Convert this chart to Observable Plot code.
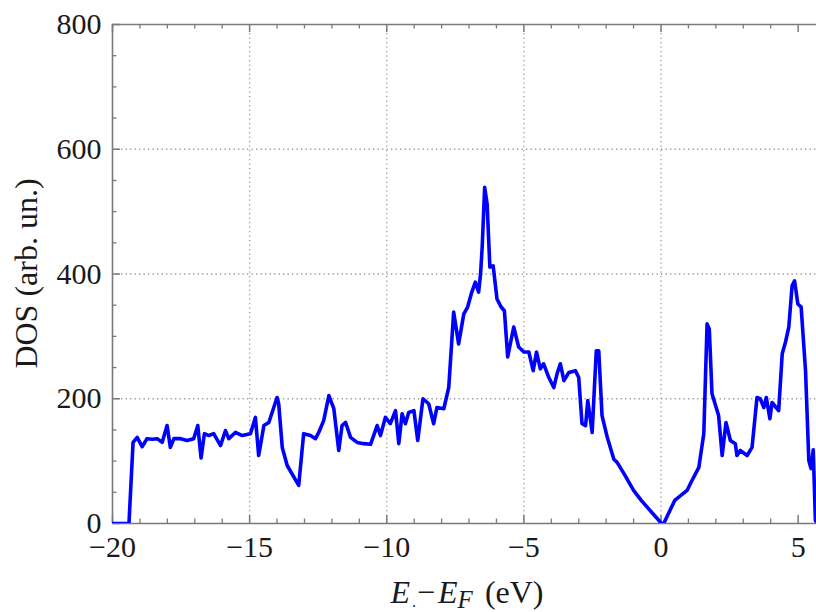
<!DOCTYPE html>
<html>
<head>
<meta charset="utf-8">
<script src="https://cdn.jsdelivr.net/npm/d3@7"></script>
<script src="https://cdn.jsdelivr.net/npm/@observablehq/plot@0.6"></script>
<style>
  html, body { margin: 0; padding: 0; background: #fff; }
  svg { display: block; }
  svg text { font-family: "Liberation Serif", "Times New Roman", Times, serif !important; }
</style>
</head>
<body>
<div id="chart"></div>
<script>
const energy = [-20, -19.40, -19.25, -19.10, -18.92, -18.74, -18.55, -18.37, -18.19, -18.01, -17.89, -17.76, -17.52, -17.28, -17.04, -16.89, -16.77, -16.65, -16.49, -16.31, -16.06, -15.88, -15.76, -15.52, -15.27, -14.97, -14.79, -14.67, -14.48, -14.30, -14.18, -14.00, -13.94, -13.81, -13.63, -13.21, -13.03, -12.78, -12.60, -12.48, -12.30, -12.11, -11.93, -11.75, -11.63, -11.50, -11.32, -11.08, -10.84, -10.59, -10.35, -10.23, -10.05, -9.87, -9.68, -9.56, -9.44, -9.32, -9.20, -9.01, -8.87, -8.68, -8.47, -8.29, -8.17, -7.92, -7.74, -7.56, -7.38, -7.19, -7.05, -6.92, -6.77, -6.65, -6.58, -6.52, -6.43, -6.34, -6.24, -6.12, -5.98, -5.83, -5.71, -5.59, -5.37, -5.19, -5.00, -4.82, -4.66, -4.54, -4.40, -4.28, -4.09, -3.91, -3.79, -3.67, -3.54, -3.36, -3.12, -3.00, -2.88, -2.75, -2.67, -2.51, -2.36, -2.27, -2.15, -1.97, -1.72, -1.60, -1.35, -1.00, -0.72, 0.02, 0.10, 0.50, 0.95, 1.13, 1.38, 1.56, 1.68, 1.76, 1.86, 2.10, 2.23, 2.37, 2.53, 2.71, 2.77, 2.89, 3.14, 3.32, 3.50, 3.62, 3.75, 3.84, 3.97, 4.05, 4.29, 4.42, 4.54, 4.66, 4.78, 4.87, 4.99, 5.11, 5.27, 5.39, 5.47, 5.55, 5.63, 5.70];
const dos = [0, 0, 130, 138, 123, 136, 135, 136, 130, 157, 122, 136, 136, 133, 136, 157, 105, 144, 141, 144, 125, 149, 136, 146, 141, 144, 170, 109, 157, 162, 178, 202, 192, 122, 93, 61, 144, 141, 136, 146, 165, 205, 184, 117, 157, 162, 138, 130, 128, 127, 157, 141, 170, 160, 181, 128, 176, 160, 178, 181, 133, 200, 192, 160, 186, 184, 218, 339, 288, 336, 347, 368, 387, 371, 400, 443, 539, 512, 411, 413, 360, 347, 341, 267, 315, 283, 275, 275, 245, 275, 248, 256, 234, 218, 240, 256, 229, 242, 245, 234, 160, 157, 197, 146, 277, 277, 173, 140, 103, 98, 80, 53, 37, 0, 0, 37, 53, 69, 90, 144, 320, 312, 208, 173, 109, 162, 133, 128, 109, 117, 109, 122, 202, 200, 186, 202, 168, 194, 181, 272, 291, 315, 381, 389, 352, 347, 245, 101, 88, 118, 5, 0];

const xMajor = [-20, -15, -10, -5, 0, 5];
const xMinor = d3.range(-20, 6, 1).filter(v => v % 5 !== 0);
const yMajor = [0, 200, 400, 600, 800];
const yMinor = d3.range(0, 801, 50).filter(v => v % 200 !== 0);
const xGrid = [-15, -10, -5, 0];
const yGrid = [200, 400, 600];

const data = energy.map((e, i) => ({e, d: dos[i]}));

const W = 816, H = 612, mL = 112, mR = 0, mT = 24, mB = 89;
const pw = W - mL - mR, ph = H - mT - mB;
const frameColor = "#7a7a7a";
const gridStyle = {stroke: "#9a9a9a", strokeWidth: 1.3, strokeDasharray: "1.3,3.2"};
const font = '"Liberation Serif", "Times New Roman", Times, serif';

const plot = Plot.plot({
  width: W, height: H,
  marginLeft: mL, marginRight: mR, marginTop: mT, marginBottom: mB,
  style: {fontFamily: font, fontSize: "30px", color: "#1a1a1a", background: "#fff"},
  x: {domain: [-20, 5.67], ticks: xMajor, tickSize: 0, tickPadding: 12, label: null},
  y: {domain: [0, 800], ticks: yMajor, tickSize: 0, tickPadding: 11, label: null},
  marks: [
    Plot.ruleX(xGrid, {...gridStyle}),
    Plot.ruleY(yGrid, {...gridStyle}),
    Plot.tickX(xMajor, {x: d => d, insetTop: ph - 8, stroke: frameColor, strokeWidth: 1.5}),
    Plot.tickX(xMinor, {x: d => d, insetTop: ph - 4.5, stroke: frameColor, strokeWidth: 1.3}),
    Plot.tickX(xMajor, {x: d => d, insetBottom: ph - 8, stroke: frameColor, strokeWidth: 1.5}),
    Plot.tickX(xMinor, {x: d => d, insetBottom: ph - 4.5, stroke: frameColor, strokeWidth: 1.3}),
    Plot.tickY(yMajor, {y: d => d, insetRight: pw - 8, stroke: frameColor, strokeWidth: 1.5}),
    Plot.tickY(yMinor, {y: d => d, insetRight: pw - 4.5, stroke: frameColor, strokeWidth: 1.3}),
    Plot.ruleX([-20], {stroke: frameColor, strokeWidth: 1.6}),
    Plot.ruleY([0, 800], {stroke: frameColor, strokeWidth: 1.6}),
    Plot.line(data, {x: "e", y: "d", stroke: "#0000ff", strokeWidth: 3.6, strokeLinejoin: "round", clip: true})
  ]
});

document.getElementById("chart").appendChild(plot);

const svg = d3.select(plot);
// y label
svg.append("text")
  .attr("transform", `translate(37, ${mT + ph / 2}) rotate(-90)`)
  .attr("text-anchor", "middle")
  .attr("font-family", font)
  .attr("font-size", 32)
  .attr("fill", "#1a1a1a")
  .text("DOS (arb. un.)");
// x label
const xl = svg.append("text")
  .attr("x", mL + pw / 2 + 3)
  .attr("y", 603)
  .attr("text-anchor", "middle")
  .attr("font-family", font)
  .attr("font-size", 32)
  .attr("fill", "#1a1a1a");
xl.append("tspan").attr("font-style", "italic").text("E");
xl.append("tspan").attr("font-size", 16).attr("dy", 4).attr("dx", 2).text(".");
xl.append("tspan").attr("dy", -4).attr("dx", 1).text("\u2212");
xl.append("tspan").attr("font-style", "italic").attr("dx", 3).text("E");
xl.append("tspan").attr("font-style", "italic").attr("font-size", 25).attr("dy", 5).text("F");
xl.append("tspan").attr("dy", -5).attr("dx", 4).text(" (eV)");
</script>
</body>
</html>
